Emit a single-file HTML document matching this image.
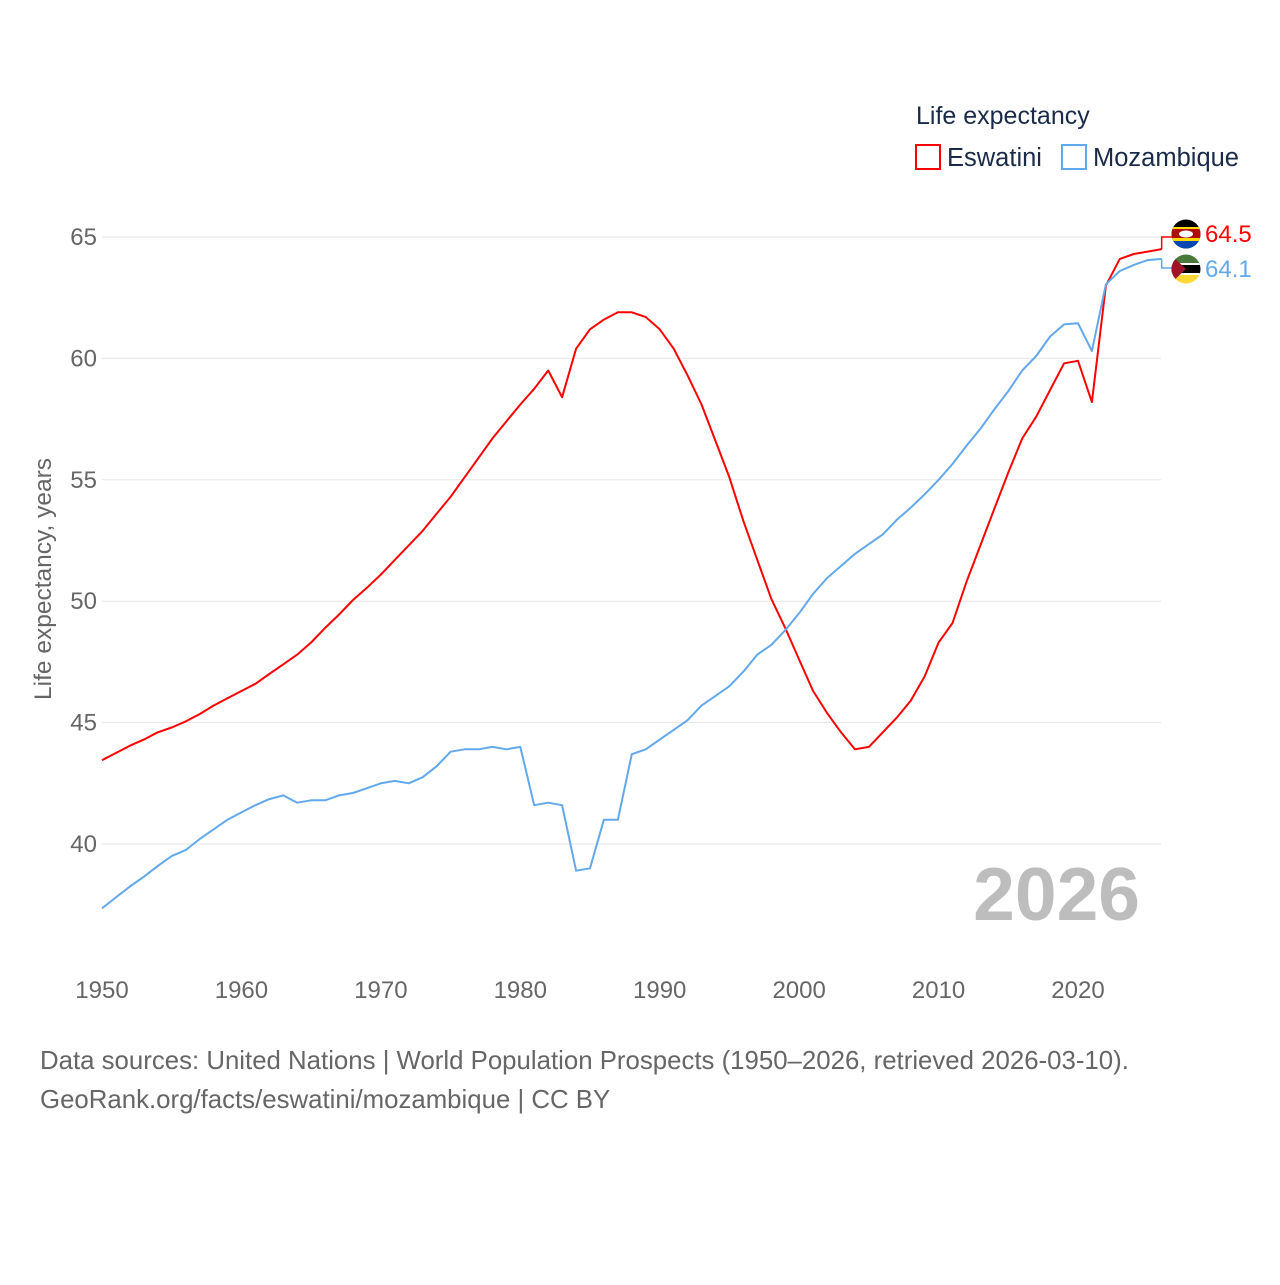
<!DOCTYPE html>
<html><head><meta charset="utf-8"><style>
body{margin:0;background:#fff;}
svg text{font-family:"Liberation Sans",sans-serif;}
</style></head><body>
<svg width="1280" height="1280" viewBox="0 0 1280 1280">
<g id="grid"></g><g id="ylabels"></g><g id="xlabels"></g>
<text x="1140" y="920" text-anchor="end" font-size="75" font-weight="bold" fill="#bdbdbd">2026</text>
<text x="51" y="579" transform="rotate(-90 51 579)" text-anchor="middle" font-size="24.5" fill="#666">Life expectancy, years</text>
<g id="series"></g>
<text x="916" y="124" font-size="25" fill="#1a2b4a">Life expectancy</text>
<g><rect x="916" y="145" width="24" height="24" fill="none" stroke="#ff0000" stroke-width="2"/><text x="947" y="166" font-size="25.5" fill="#1a2b4a">Eswatini</text></g>
<g><rect x="1062" y="145" width="24" height="24" fill="none" stroke="#62a8ec" stroke-width="2"/><text x="1093" y="166" font-size="25.5" fill="#1a2b4a">Mozambique</text></g>
<g><clipPath id="c1"><circle cx="1186" cy="234" r="14.5"/></clipPath><g clip-path="url(#c1)"><rect x="1170" y="219" width="32" height="30" fill="#000"/><rect x="1170" y="227" width="32" height="4" fill="#ffd900"/><rect x="1170" y="229" width="32" height="10" fill="#b10c0c"/><rect x="1170" y="238" width="32" height="3" fill="#ffd900"/><rect x="1170" y="241" width="32" height="9" fill="#0047b3"/><ellipse cx="1186" cy="234" rx="7" ry="3.5" fill="#fff"/></g></g>
<g><clipPath id="c2"><circle cx="1186" cy="269" r="14.5"/></clipPath><g clip-path="url(#c2)"><rect x="1170" y="254" width="32" height="10" fill="#4a7a3a"/><rect x="1170" y="264" width="32" height="10" fill="#000"/><rect x="1170" y="263" width="32" height="2" fill="#fff"/><rect x="1170" y="273" width="32" height="2" fill="#fff"/><rect x="1170" y="275" width="32" height="10" fill="#fcd835"/><polygon points="1170,254 1186,269 1170,284" fill="#a0142a"/></g></g>
<text x="1205" y="242" font-size="24" fill="#ff0000">64.5</text>
<text x="1205" y="277" font-size="24" fill="#62a8ec">64.1</text>
<text x="40" y="1069" font-size="25.8" fill="#666">Data sources: United Nations | World Population Prospects (1950–2026, retrieved 2026-03-10).</text>
<text x="40" y="1108" font-size="25.8" fill="#666">GeoRank.org/facts/eswatini/mozambique | CC BY</text>
</svg>
<script>
const years = []; for (let y = 1950; y <= 2026; y++) years.push(y);
const eswatini = [43.45,43.75,44.05,44.3,44.6,44.8,45.05,45.35,45.7,46.0,46.3,46.6,47.0,47.4,47.8,48.3,48.9,49.45,50.05,50.55,51.1,51.7,52.3,52.9,53.6,54.3,55.1,55.9,56.7,57.4,58.1,58.75,59.5,58.4,60.4,61.2,61.6,61.9,61.9,61.7,61.2,60.4,59.3,58.1,56.6,55.1,53.3,51.7,50.1,48.9,47.6,46.3,45.4,44.6,43.9,44.0,44.6,45.2,45.9,46.9,48.3,49.1,50.8,52.3,53.8,55.3,56.7,57.6,58.7,59.8,59.9,58.2,63.0,64.1,64.3,64.4,64.5];
const mozambique = [37.35,37.8,38.25,38.65,39.1,39.5,39.75,40.2,40.6,41.0,41.3,41.6,41.85,42.0,41.7,41.8,41.8,42.0,42.1,42.3,42.5,42.6,42.5,42.75,43.2,43.8,43.9,43.9,44.0,43.9,44.0,41.6,41.7,41.6,38.9,39.0,41.0,41.0,43.7,43.9,44.3,44.7,45.1,45.7,46.1,46.5,47.1,47.8,48.2,48.8,49.5,50.3,50.95,51.45,51.95,52.35,52.75,53.35,53.85,54.4,55.0,55.65,56.4,57.1,57.9,58.65,59.5,60.1,60.9,61.4,61.45,60.3,63.05,63.6,63.85,64.05,64.1];
const yTicks = [40,45,50,55,60,65];
const xTicks = [1950,1960,1970,1980,1990,2000,2010,2020];
const NS = "http://www.w3.org/2000/svg";
const xs = y => 102 + (y - 1950) * (1078 - 102) / 70;
const ys = v => 844 - (v - 40) * (844 - 237) / 25;
function mk(tag, attrs, parent, txt) { const e = document.createElementNS(NS, tag); for (const k in attrs) e.setAttribute(k, attrs[k]); if (txt != null) e.textContent = txt; document.getElementById(parent).appendChild(e); return e; }
yTicks.forEach(t => {
  const l = mk("line", {x1:102, x2:1161, y1:ys(t), y2:ys(t), stroke:"#e6e6e6", "stroke-width":1}, "grid");
  
  
  const tx = mk("text", {x:97, y:ys(t)+8, "text-anchor":"end", "font-size":24, fill:"#666"}, "ylabels", t);
  
  
});
xTicks.forEach(t => {
  const tx = mk("text", {x:xs(t), y:998, "text-anchor":"middle", "font-size":24, fill:"#666"}, "xlabels", t);
  
  
});
function line(vals, color, name, labelY) {
  const pts = vals.map((v, i) => xs(years[i]).toFixed(1) + "," + ys(v).toFixed(1)).join(" ");
  const p = mk("polyline", {points:pts, fill:"none", stroke:color, "stroke-width":2, "stroke-linejoin":"round"}, "series");
  
  
  const lx = xs(years[years.length-1]), ly = ys(vals[vals.length-1]);
  const c = mk("polyline", {points:`${lx},${ly} ${lx},${labelY} 1172,${labelY}`, fill:"none", stroke:color, "stroke-width":1.5}, "series");
  
  
}
line(eswatini, "#ff0000", "eswatini-line", 237);
line(mozambique, "#62a8ec", "mozambique-line", 268);
</script>
</body></html>
